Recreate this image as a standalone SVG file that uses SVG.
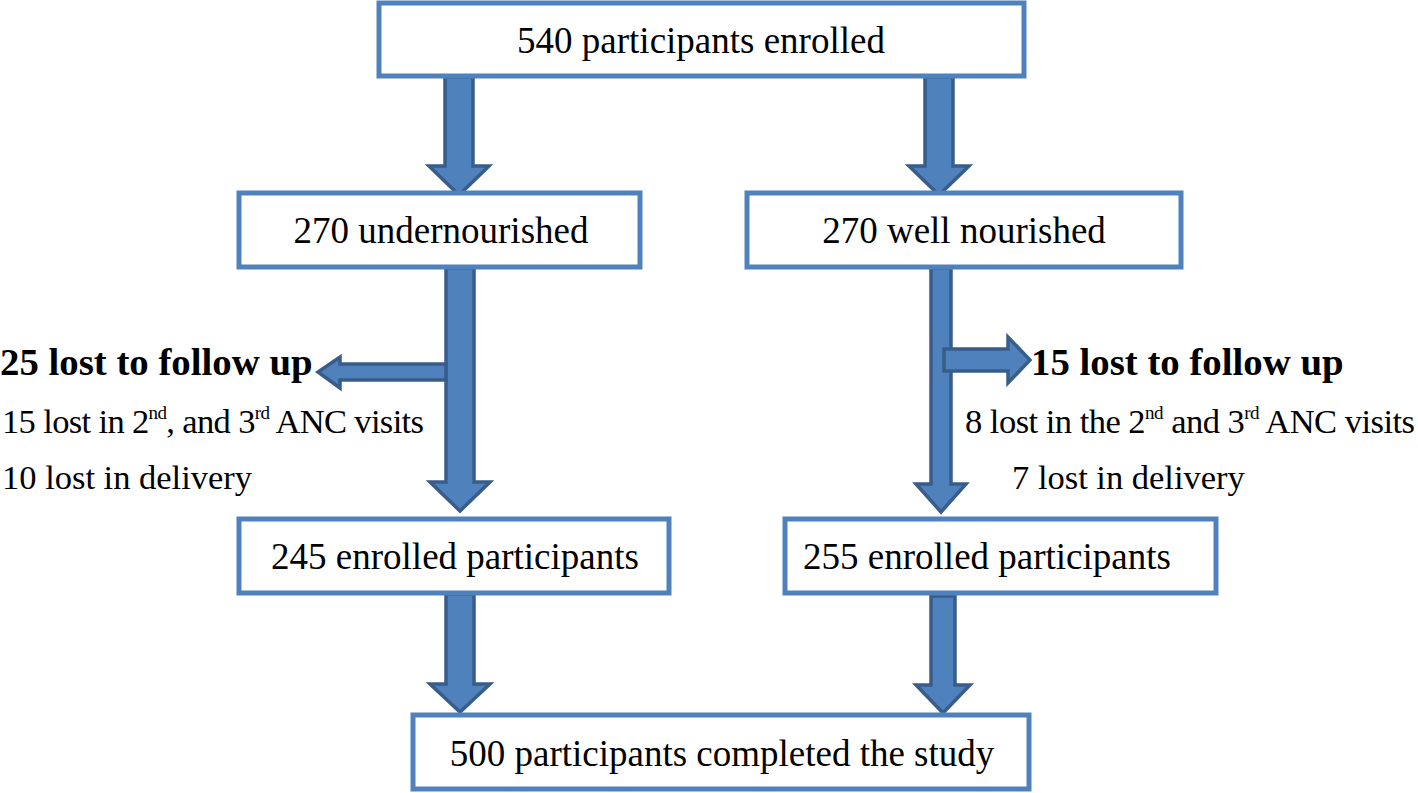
<svg xmlns="http://www.w3.org/2000/svg" width="1418" height="793" viewBox="0 0 1418 793">
<style>
.box{fill:#fff;stroke:#4F81BD;stroke-width:5}
.arr{fill:#4F81BD;stroke:#385D8A;stroke-width:3.5;stroke-linejoin:miter}
.t{font-family:"Liberation Serif","Times New Roman",serif;font-size:37px;fill:#000}
.b{font-weight:bold;font-size:38.8px}
.s{font-size:34.5px}
.sup{font-size:19px}
</style>
<rect width="1418" height="793" fill="#fff"/>
<g id="connectors">
<polygon class="arr" points="445,77 473,77 473,166 489,166 459,195 429,166 445,166"/>
<polygon class="arr" points="925,77 953,77 953,166 969,166 939,195 909,166 925,166"/>
<polygon class="arr" points="446,268 474,268 474,482 490,482 460,511 430,482 446,482"/>
<polygon class="arr" points="446,364 446,380 340,380 340,388 318,372 340,357 340,364"/>
<polygon class="arr" points="931,268 951,268 951,484 966,484 941,512 916,484 931,484"/>
<polygon class="arr" points="944,349 1008,349 1008,337 1030,360 1008,383 1008,371 944,371"/>
<polygon class="arr" points="446,594 474,594 474,684 490,684 460,712 430,684 446,684"/>
<polygon class="arr" points="931,596 955,596 955,685 970,685 943,713 916,685 931,685"/>
</g>
<g id="n1"><rect class="box" x="379" y="3" width="645" height="73"/><text class="t" x="701" y="53" text-anchor="middle">540 participants enrolled</text></g>
<g id="n2"><rect class="box" x="239" y="193" width="401" height="74"/><text class="t" x="441" y="243" text-anchor="middle">270 undernourished</text></g>
<g id="n3"><rect class="box" x="747" y="193" width="434" height="74"/><text class="t" x="964" y="243" text-anchor="middle">270 well nourished</text></g>
<g id="n4"><rect class="box" x="239" y="519" width="430" height="74"/><text class="t" x="455" y="569" text-anchor="middle">245 enrolled participants</text></g>
<g id="n5"><rect class="box" x="785" y="519" width="431" height="74"/><text class="t" x="987" y="569" text-anchor="middle">255 enrolled participants</text></g>
<g id="n6"><rect class="box" x="413" y="715" width="616" height="74"/><text class="t" x="722" y="766" text-anchor="middle">500 participants completed the study</text></g>
<g id="left-loss">
<text class="t b" x="0" y="375">25 lost to follow up</text>
<text class="t s" x="2" y="433" textLength="422" lengthAdjust="spacing">15 lost in 2<tspan class="sup" dy="-14">nd</tspan><tspan dy="14">, and 3</tspan><tspan class="sup" dy="-14">rd</tspan><tspan dy="14"> ANC visits</tspan></text>
<text class="t s" x="2" y="489">10 lost in delivery</text>
</g>
<g id="right-loss">
<text class="t b" x="1031" y="375">15 lost to follow up</text>
<text class="t s" x="965" y="433" textLength="450" lengthAdjust="spacing">8 lost in the 2<tspan class="sup" dy="-14">nd</tspan><tspan dy="14"> and 3</tspan><tspan class="sup" dy="-14">rd</tspan><tspan dy="14">  ANC visits</tspan></text>
<text class="t s" x="1012" y="489">7 lost in delivery</text>
</g>
</svg>
